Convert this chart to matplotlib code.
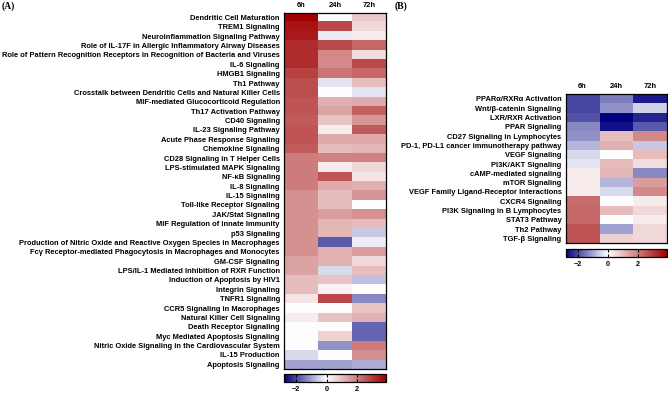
import numpy as np
import matplotlib
matplotlib.use('Agg')
import matplotlib.pyplot as plt
from matplotlib.colors import LinearSegmentedColormap, Normalize

plt.rcParams['font.family'] = ['Liberation Sans', 'DejaVu Sans']
plt.rcParams['font.weight'] = 'bold'

timepoints = ['6h', '24h', '72h']

pathways_a = [
    'Dendritic Cell Maturation', 'TREM1 Signaling', 'Neuroinflammation Signaling Pathway',
    'Role of IL-17F in Allergic Inflammatory Airway Diseases',
    'Role of Pattern Recognition Receptors in Recognition of Bacteria and Viruses',
    'IL-6 Signaling', 'HMGB1 Signaling', 'Th1 Pathway',
    'Crosstalk between Dendritic Cells and Natural Killer Cells',
    'MIF-mediated Glucocorticoid Regulation', 'Th17 Activation Pathway', 'CD40 Signaling',
    'IL-23 Signaling Pathway', 'Acute Phase Response Signaling', 'Chemokine Signaling',
    'CD28 Signaling in T Helper Cells', 'LPS-stimulated MAPK Signaling', 'NF-κB Signaling',
    'IL-8 Signaling', 'IL-15 Signaling', 'Toll-like Receptor Signaling', 'JAK/Stat Signaling',
    'MIF Regulation of Innate Immunity', 'p53 Signaling',
    'Production of Nitric Oxide and Reactive Oxygen Species in Macrophages',
    'Fcγ Receptor-mediated Phagocytosis in Macrophages and Monocytes',
    'GM-CSF Signaling', 'LPS/IL-1 Mediated Inhibition of RXR Function',
    'Induction of Apoptosis by HIV1', 'Integrin Signaling', 'TNFR1 Signaling',
    'CCR5 Signaling in Macrophages', 'Natural Killer Cell Signaling', 'Death Receptor Signaling',
    'Myc Mediated Apoptosis Signaling', 'Nitric Oxide Signaling in the Cardiovascular System',
    'IL-15 Production', 'Apoptosis Signaling',
]
a_6h = [3.9, 3.6, 3.5, 3.2, 3.2, 3.2, 2.9, 2.7, 2.7, 2.6, 2.6, 2.5, 2.6, 2.6, 2.5,
        2.0, 2.0, 2.0, 2.0, 1.7, 1.7, 1.7, 1.7, 1.7, 1.7, 1.7, 1.4, 1.4, 1.0, 1.0,
        0.4, 0.0, 0.3, 0.0, 0.0, 0.0, -0.4, -1.0]
a_24h = [0.0, 2.8, -0.2, 2.8, 1.8, 1.8, 2.1, -0.3, 0.0, 1.2, 1.4, 0.9, 0.3, 1.3, 1.0,
         1.9, 0.3, 2.6, 1.3, 1.0, 1.0, 1.5, 1.1, 1.1, -1.8, 1.2, 1.2, -0.4, 0.9, 0.2,
         2.8, 0.0, 0.9, 0.0, 0.7, -1.2, 0.0, -1.0]
a_72h = [0.8, 0.6, 0.3, 2.3, 0.5, 2.8, 2.3, 1.0, -0.3, 1.3, 2.4, 1.6, 2.5, 1.3, 1.1,
         1.9, 0.6, 0.4, 1.2, 1.6, 0.0, 1.7, 1.0, -0.6, -0.2, 1.5, 0.6, 1.0, -0.7, 0.0,
         -1.3, 0.9, 1.2, -1.7, -1.7, 2.0, 1.7, -0.9]

pathways_b = [
    'PPARα/RXRα Activation', 'Wnt/β-catenin Signaling', 'LXR/RXR Activation', 'PPAR Signaling',
    'CD27 Signaling in Lymphocytes', 'PD-1, PD-L1 cancer immunotherapy pathway',
    'VEGF Signaling', 'PI3K/AKT Signaling', 'cAMP-mediated signaling', 'mTOR Signaling',
    'VEGF Family Ligand-Receptor Interactions', 'CXCR4 Signaling',
    'PI3K Signaling in B Lymphocytes', 'STAT3 Pathway', 'Th2 Pathway', 'TGF-β Signaling',
]
b_6h = [-2.0, -2.0, -1.9, -1.3, -1.2, -0.8, -0.4, -0.3, 0.3, 0.3, 0.3, 2.2, 2.3, 2.3, 2.6, 2.6]
b_24h = [-1.4, -1.2, -2.8, -2.6, 1.0, 1.2, 0.0, 1.0, 1.1, -0.8, -0.4, 0.0, 1.0, 0.0, -1.0, 0.7]
b_72h = [-2.5, -0.5, -2.4, -1.8, 1.8, -0.6, 1.0, 0.5, -1.3, 1.5, 1.8, 0.3, 0.6, 0.3, 0.6, 0.6]

vmin, vmax = -2.8, 3.9
mid = (0 - vmin) / (vmax - vmin)
cmap = LinearSegmentedColormap.from_list(
    'bwr_ipa', [(0.0, '#000080'), (mid, '#ffffff'), (1.0, '#a00000')])
norm = Normalize(vmin=vmin, vmax=vmax)

W, H = 668, 394
fig = plt.figure(figsize=(W / 100, H / 100), dpi=100)


def px_axes(x0, y0, x1, y1):
    return fig.add_axes([x0 / W, 1 - y1 / H, (x1 - x0) / W, (y1 - y0) / H])


def heatmap(ax, cax, labels, cols):
    data = np.column_stack(cols)
    im = ax.imshow(data, cmap=cmap, norm=norm, aspect='auto', interpolation='nearest')
    ax.set_yticks(range(len(labels)))
    ax.set_yticklabels(labels, fontsize=5.4, fontweight='bold')
    ax.set_xticks(range(len(timepoints)))
    ax.set_xticklabels(timepoints, fontsize=5.4, fontweight='bold')
    ax.xaxis.tick_top()
    ax.tick_params(length=0, pad=3)
    for s in ax.spines.values():
        s.set_linewidth(0.9)
    cb = fig.colorbar(im, cax=cax, orientation='horizontal', ticks=[-2, 0, 2])
    cb.outline.set_linewidth(0.9)
    cax.tick_params(direction='in', length=2, width=0.8, top=True, bottom=True,
                    labelsize=5.2, pad=3)
    for t in cax.get_xticklabels():
        t.set_fontweight('bold')


ax_a = px_axes(284, 12.7, 386, 369)
cax_a = px_axes(284, 374, 386, 382)
heatmap(ax_a, cax_a, pathways_a, [a_6h, a_24h, a_72h])

ax_b = px_axes(565.7, 94.3, 666.7, 243)
cax_b = px_axes(565.5, 249, 666.5, 257)
heatmap(ax_b, cax_b, pathways_b, [b_6h, b_24h, b_72h])

fig.text(2 / W, 1 - 6 / H, '(A)', family='Liberation Serif', fontweight='bold',
         fontsize=7, va='center', ha='left')
fig.text(395 / W, 1 - 6 / H, '(B)', family='Liberation Serif', fontweight='bold',
         fontsize=7, va='center', ha='left')

fig.savefig('out.png', dpi=100)
